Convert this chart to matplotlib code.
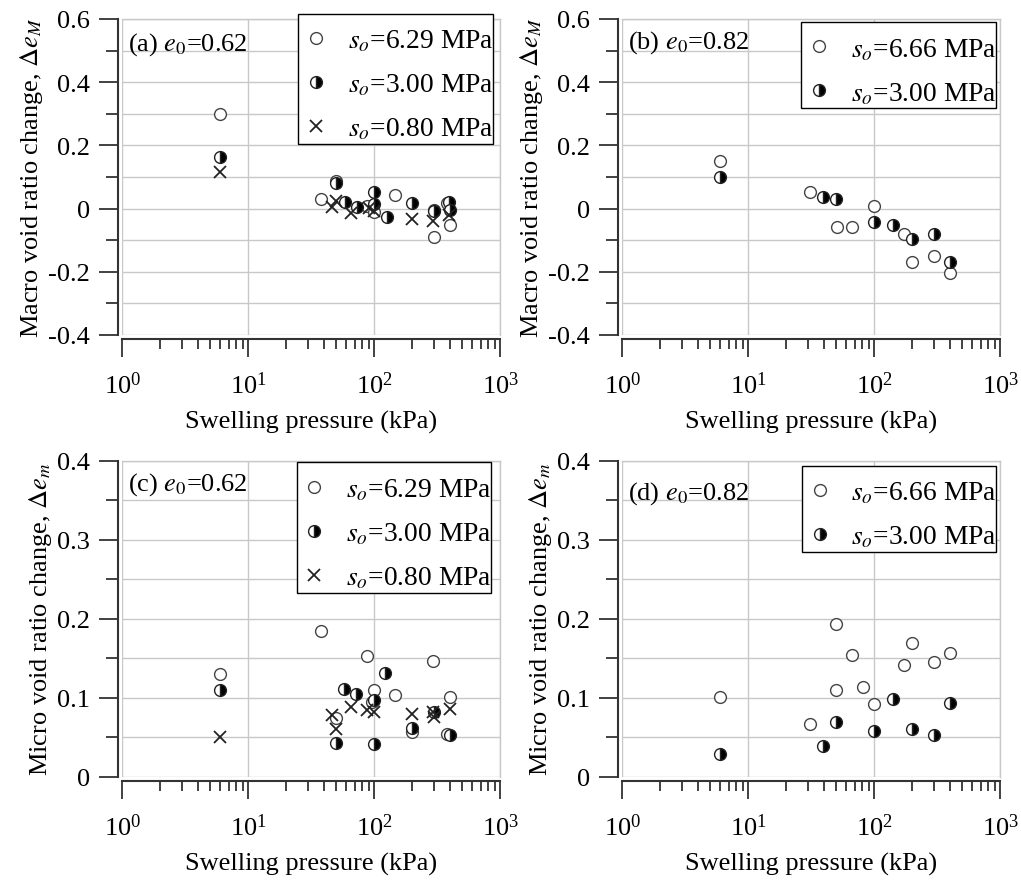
import numpy as np
import matplotlib
matplotlib.use("Agg")
import matplotlib.pyplot as plt
from matplotlib.ticker import FixedLocator, LogLocator, FuncFormatter, LogFormatterMathtext, NullFormatter

plt.rcParams['font.family'] = ['Liberation Serif', 'DejaVu Serif']
plt.rcParams['mathtext.fontset'] = 'stix'
plt.rcParams['axes.unicode_minus'] = False

# datos
# (a) e0=0.62, macro
x_a_629 = [6, 38, 50, 87, 100, 147, 300, 296, 380, 400]
y_a_629 = [0.30, 0.03, 0.088, 0.009, -0.010, 0.043, -0.005, -0.09, 0.018, -0.052]
x_a_300 = [6, 50, 59, 73, 100, 100, 125, 200, 300, 390, 400]
y_a_300 = [0.162, 0.08, 0.02, 0.006, 0.052, 0.015, -0.028, 0.017, -0.007, 0.02, -0.005]
x_a_080 = [6, 46, 50, 65, 90, 100, 200, 290, 390]
y_a_080 = [0.117, 0.005, 0.025, -0.013, 0.003, -0.007, -0.033, -0.040, -0.02]

# (b) e0=0.82, macro
x_b_666 = [6, 31, 51, 67, 100, 172, 200, 300, 400]
y_b_666 = [0.15, 0.053, -0.057, -0.057, 0.009, -0.08, -0.168, -0.15, -0.205]
x_b_300 = [6, 39, 50, 100, 140, 200, 300, 400]
y_b_300 = [0.10, 0.037, 0.030, -0.042, -0.052, -0.095, -0.08, -0.168]

# (c) e0=0.62, micro
x_c_629 = [6, 38, 50, 88, 100, 96, 145, 200, 290, 380, 400]
y_c_629 = [0.13, 0.184, 0.075, 0.153, 0.11, 0.095, 0.103, 0.057, 0.146, 0.054, 0.101]
x_c_300 = [6, 50, 58, 72, 100, 100, 122, 200, 300, 400]
y_c_300 = [0.11, 0.043, 0.111, 0.105, 0.097, 0.042, 0.132, 0.062, 0.082, 0.053]
x_c_080 = [6, 46, 50, 65, 88, 100, 200, 290, 300, 400]
y_c_080 = [0.05, 0.078, 0.061, 0.088, 0.085, 0.082, 0.080, 0.082, 0.076, 0.086]

# (d) e0=0.82, micro
x_d_666 = [6, 31, 50, 50, 67, 82, 100, 172, 200, 300, 400]
y_d_666 = [0.101, 0.067, 0.193, 0.11, 0.154, 0.114, 0.092, 0.142, 0.169, 0.145, 0.157]
x_d_300 = [6, 39, 50, 100, 140, 200, 300, 400]
y_d_300 = [0.029, 0.039, 0.07, 0.058, 0.099, 0.06, 0.053, 0.093]

FS = 19
dark = '#333333'
gridc = '#c8c8c8'

fig = plt.figure(figsize=(10.21, 8.87), dpi=100)
W, H = 1021, 887

def make_ax(x0, ytop, ybot):
    ax = fig.add_axes([x0 / W, 1 - ybot / H, 378 / W, (ybot - ytop) / H])
    return ax

ax_a = make_ax(122.3, 20, 336)
ax_b = make_ax(622.3, 20, 336)
ax_c = make_ax(122.3, 461.8, 777.8)
ax_d = make_ax(622.3, 461.8, 777.8)

def style(ax, ylim, major, minor, ylabel):
    ax.set_xscale('log')
    ax.set_xlim(1, 1000)
    ax.set_ylim(*ylim)
    ax.yaxis.set_major_locator(FixedLocator(major))
    ax.yaxis.set_minor_locator(FixedLocator(minor))
    ax.yaxis.set_major_formatter(FuncFormatter(lambda v, p: '%g' % round(v, 3)))
    ax.xaxis.set_major_locator(LogLocator(base=10, numticks=10))
    ax.xaxis.set_minor_locator(LogLocator(base=10, subs=np.arange(2, 10), numticks=10))
    ax.xaxis.set_major_formatter(LogFormatterMathtext())
    ax.xaxis.set_minor_formatter(NullFormatter())
    ax.grid(True, which='major', axis='x', color=gridc, lw=1)
    ax.grid(True, which='both', axis='y', color=gridc, lw=1)
    ax.set_axisbelow(True)
    for s in ['top', 'right']:
        ax.spines[s].set_color(gridc)
        ax.spines[s].set_linewidth(1)
    for s in ['left', 'bottom']:
        ax.spines[s].set_position(('outward', 3))
        ax.spines[s].set_color(dark)
        ax.spines[s].set_linewidth(1.5)
    ax.tick_params(axis='y', which='major', direction='out', length=14, width=1.3, color=dark,
                   labelsize=FS, pad=6.5)
    ax.tick_params(axis='y', which='minor', direction='out', length=9, width=1.3, color=dark)
    ax.tick_params(axis='x', which='major', direction='out', length=13, width=1.3, color=dark,
                   labelsize=FS, pad=10)
    ax.tick_params(axis='x', which='minor', direction='out', length=7, width=1.3, color=dark)
    ax.set_xlabel('Swelling pressure (kPa)', fontsize=FS, labelpad=9)
    ax.set_ylabel(ylabel, fontsize=FS, labelpad=2)

def open_c(ax, x, y, lab):
    ax.plot(x, y, ls='none', marker='o', ms=8.5, mfc='white', mec='#444444', mew=1.0,
            label=lab, zorder=3)

def half_c(ax, x, y, lab):
    ax.plot(x, y, ls='none', marker='o', ms=8.5, fillstyle='right', mfc='black',
            mfcalt='white', mec='#222222', mew=1.0, label=lab, zorder=4)

def cross(ax, x, y, lab):
    ax.plot(x, y, ls='none', marker='x', ms=9, mec='#222222', mew=1.3, label=lab, zorder=5)

macro_major = [-0.4, -0.2, 0, 0.2, 0.4, 0.6]
macro_minor = [-0.3, -0.1, 0.1, 0.3, 0.5]
micro_major = [0, 0.1, 0.2, 0.3, 0.4]
micro_minor = [0.05, 0.15, 0.25, 0.35]

style(ax_a, (-0.4, 0.6), macro_major, macro_minor, r'Macro void ratio change, $\Delta e_M$')
style(ax_b, (-0.4, 0.6), macro_major, macro_minor, r'Macro void ratio change, $\Delta e_M$')
style(ax_c, (0, 0.4), micro_major, micro_minor, r'Micro void ratio change, $\Delta e_m$')
style(ax_d, (0, 0.4), micro_major, micro_minor, r'Micro void ratio change, $\Delta e_m$')

open_c(ax_a, x_a_629, y_a_629, r'$s_o$=6.29 MPa')
half_c(ax_a, x_a_300, y_a_300, r'$s_o$=3.00 MPa')
cross(ax_a, x_a_080, y_a_080, r'$s_o$=0.80 MPa')

open_c(ax_b, x_b_666, y_b_666, r'$s_o$=6.66 MPa')
half_c(ax_b, x_b_300, y_b_300, r'$s_o$=3.00 MPa')

open_c(ax_c, x_c_629, y_c_629, r'$s_o$=6.29 MPa')
half_c(ax_c, x_c_300, y_c_300, r'$s_o$=3.00 MPa')
cross(ax_c, x_c_080, y_c_080, r'$s_o$=0.80 MPa')

open_c(ax_d, x_d_666, y_d_666, r'$s_o$=6.66 MPa')
half_c(ax_d, x_d_300, y_d_300, r'$s_o$=3.00 MPa')

panels = [(ax_a, '(a) $e_0$=0.62', 0.921, (0.980, 1.016)),
          (ax_b, '(b) $e_0$=0.82', 0.927, (0.988, 0.990)),
          (ax_c, '(c) $e_0$=0.62', 0.927, (0.975, 0.995)),
          (ax_d, '(d) $e_0$=0.82', 0.901, (0.989, 0.984))]
for ax, txt, ty, anchor in panels:
    ax.text(0.015, ty, txt, transform=ax.transAxes, fontsize=FS, ha='left', va='center')
    leg = ax.legend(loc='upper right', bbox_to_anchor=anchor, fontsize=19.8, frameon=True,
                    fancybox=False, framealpha=1, edgecolor='black', handlelength=0.7,
                    handletextpad=0.47, labelspacing=0.67, borderpad=0.3, borderaxespad=0)
    leg.get_frame().set_linewidth(1.0)
    leg.set_zorder(10)
    # texto encostado na borda direita da caixa e conteudo um pouco mais abaixo
    for t in leg.get_texts():
        t.set_position((9, -6))
    for h in leg.legend_handles:
        h.set_ydata(np.asarray(h.get_ydata(), dtype=float) - 4.3)

fig.savefig('out.png', dpi=100)
